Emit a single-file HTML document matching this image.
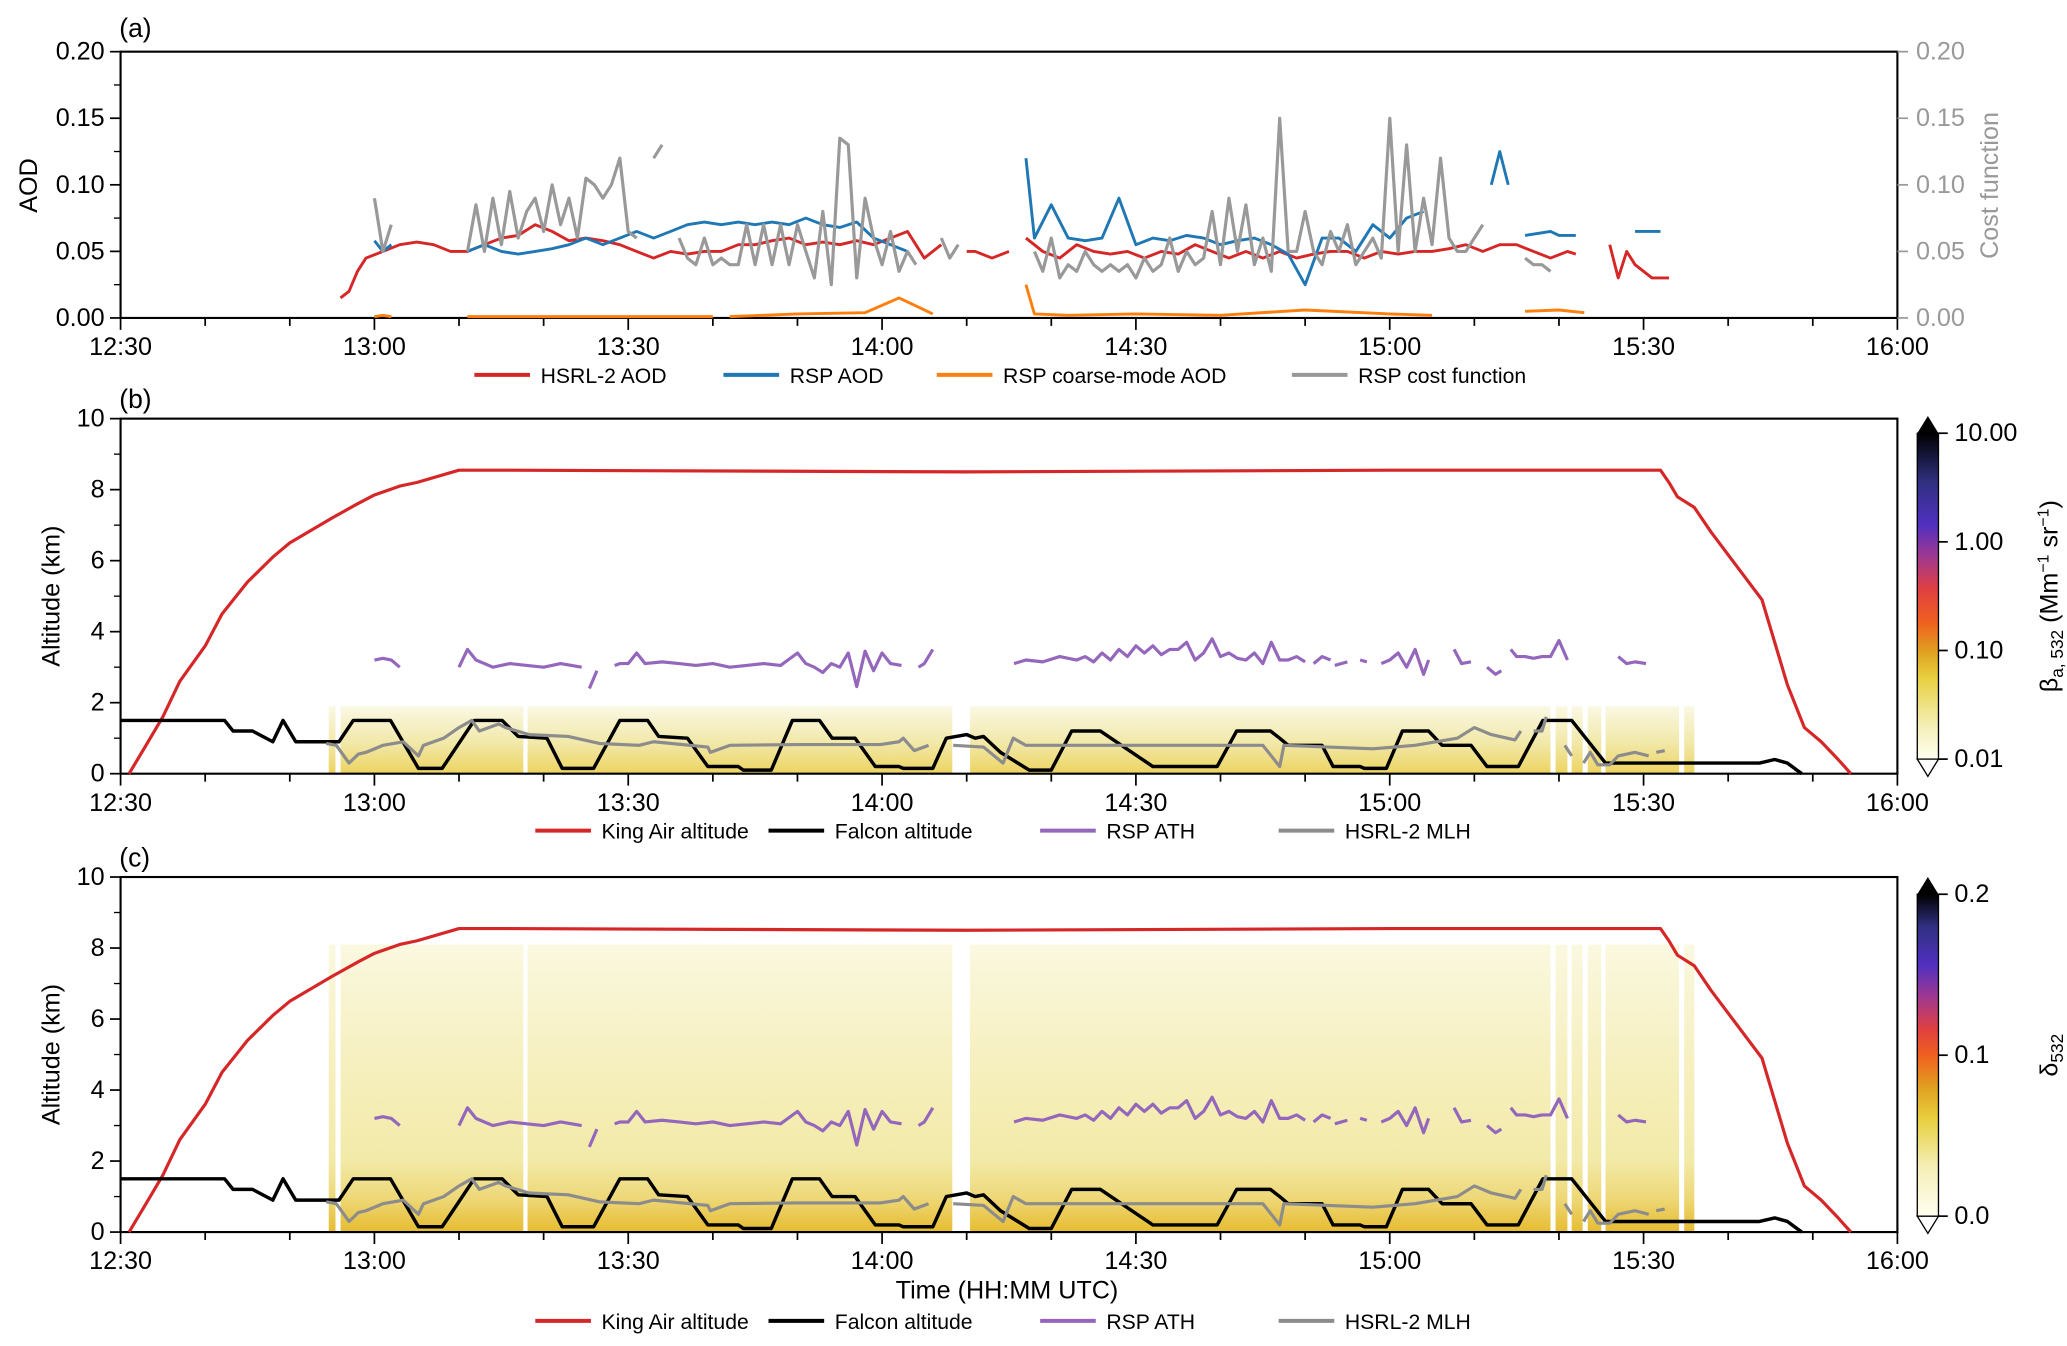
<!DOCTYPE html>
<html><head><meta charset="utf-8"><style>
html,body{margin:0;padding:0;background:#fff}
svg{display:block;font-family:"Liberation Sans",Arial,sans-serif}
</style></head><body>
<svg id="fig" width="2067" height="1346" viewBox="0 0 1560 1016" preserveAspectRatio="none" xmlns="http://www.w3.org/2000/svg">
<defs>
<linearGradient id="cb1" x1="0" y1="1" x2="0" y2="0">
<stop offset="0" stop-color="#fffff0"/><stop offset="0.1" stop-color="#f4efb8"/><stop offset="0.25" stop-color="#e8d040"/><stop offset="0.33" stop-color="#e0a020"/><stop offset="0.42" stop-color="#f06020"/><stop offset="0.52" stop-color="#e04040"/><stop offset="0.62" stop-color="#a03890"/><stop offset="0.72" stop-color="#5030c0"/><stop offset="0.85" stop-color="#303080"/><stop offset="1" stop-color="#000"/>
</linearGradient>
<linearGradient id="cb2" x1="0" y1="1" x2="0" y2="0">
<stop offset="0" stop-color="#fffff0"/><stop offset="0.15" stop-color="#f4efb8"/><stop offset="0.3" stop-color="#e8d040"/><stop offset="0.4" stop-color="#e0a020"/><stop offset="0.5" stop-color="#f06020"/><stop offset="0.58" stop-color="#e04040"/><stop offset="0.68" stop-color="#a03890"/><stop offset="0.78" stop-color="#5030c0"/><stop offset="0.9" stop-color="#303080"/><stop offset="1" stop-color="#000"/>
</linearGradient>
<linearGradient id="hb" x1="0" y1="1" x2="0" y2="0">
<stop offset="0" stop-color="#ecd460"/><stop offset="0.45" stop-color="#f2e8a8"/><stop offset="1" stop-color="#faf8e4"/>
</linearGradient>
<linearGradient id="hc" x1="0" y1="1" x2="0" y2="0">
<stop offset="0" stop-color="#e6bc30"/><stop offset="0.12" stop-color="#eed878"/><stop offset="0.25" stop-color="#f2eaa8"/><stop offset="0.6" stop-color="#f6f0c0"/><stop offset="1" stop-color="#faf8e0"/>
</linearGradient>
</defs>
<g id="root"></g>
</svg>
<script>
// ---- data (minutes after 12:30) ----
const hsrlT=[26,27,28,29,31,33,35,37,39,41,43,45,47,49,51,53,55,57,59,61,63,65,67,69,71,73,75,77,79,81,83,85,87,89,91,93,95,97,null,100,101,103,105,null,107,109,111,113,115,117,119,121,123,125,127,129,131,133,135,137,139,141,143,145,147,149,151,153,155,157,159,161,163,165,167,169,171,172,null,176,177,178,179,180,181,183];
const hsrlV=[0.015,0.02,0.035,0.045,0.05,0.055,0.057,0.055,0.05,0.05,0.055,0.06,0.062,0.07,0.065,0.058,0.06,0.058,0.055,0.05,0.045,0.05,0.048,0.05,0.05,0.055,0.055,0.058,0.06,0.055,0.057,0.055,0.058,0.055,0.06,0.065,0.045,0.055,null,0.05,0.05,0.045,0.05,null,0.06,0.05,0.045,0.055,0.05,0.048,0.05,0.045,0.05,0.048,0.055,0.05,0.045,0.05,0.045,0.05,0.045,0.048,0.05,0.05,0.045,0.05,0.048,0.05,0.05,0.052,0.055,0.05,0.055,0.055,0.05,0.045,0.05,0.048,null,0.055,0.03,0.05,0.04,0.035,0.03,0.03];
const rspT=[30,31,32,null,41,43,45,47,49,51,53,55,57,59,61,63,65,67,69,71,73,75,77,79,81,83,85,87,89,91,93,null,107,108,110,112,114,116,118,120,122,124,126,128,130,132,134,136,138,140,142,144,146,148,150,152,154,null,162,163,164,null,166,169,170,172,null,179,180.5,182];
const rspV=[0.058,0.05,0.055,null,0.05,0.055,0.05,0.048,0.05,0.052,0.055,0.06,0.055,0.06,0.065,0.06,0.065,0.07,0.072,0.07,0.072,0.07,0.072,0.07,0.075,0.07,0.068,0.072,0.06,0.055,0.05,null,0.12,0.06,0.085,0.06,0.058,0.06,0.09,0.055,0.06,0.058,0.062,0.06,0.055,0.058,0.06,0.055,0.048,0.025,0.06,0.06,0.05,0.07,0.06,0.075,0.08,null,0.10,0.125,0.10,null,0.062,0.065,0.062,0.062,null,0.065,0.065,0.065];
const costT=[30,31,32,null,41,42,43,44,45,46,47,48,49,50,51,52,53,54,55,56,57,58,59,60,61,null,63,64,null,66,67,68,69,70,71,72,73,74,75,76,77,78,79,80,81,82,83,84,85,86,87,88,89,90,91,92,93,94,null,97,98,99,null,108,109,110,111,112,113,114,115,116,117,118,119,120,121,122,123,124,125,126,127,128,129,130,131,132,133,134,135,136,137,138,139,140,141,142,143,144,145,146,147,148,149,150,151,152,153,154,155,156,157,158,159,160,161,null,163,164,null,165,166,167,168,169];
const costV=[0.09,0.05,0.07,null,0.05,0.085,0.05,0.09,0.055,0.095,0.06,0.08,0.09,0.065,0.10,0.07,0.09,0.06,0.105,0.10,0.09,0.10,0.12,0.065,0.06,null,0.12,0.13,null,0.06,0.045,0.04,0.06,0.04,0.045,0.04,0.04,0.07,0.04,0.07,0.04,0.07,0.04,0.07,0.05,0.03,0.08,0.025,0.135,0.13,0.03,0.09,0.06,0.04,0.065,0.035,0.05,0.04,null,0.06,0.045,0.055,null,0.05,0.035,0.06,0.03,0.04,0.035,0.05,0.04,0.035,0.04,0.035,0.04,0.03,0.045,0.035,0.04,0.06,0.035,0.05,0.04,0.045,0.08,0.04,0.09,0.05,0.085,0.04,0.06,0.035,0.15,0.05,0.05,0.08,0.05,0.04,0.065,0.05,0.07,0.04,0.05,0.06,0.045,0.15,0.05,0.13,0.05,0.09,0.055,0.12,0.06,0.05,0.05,0.06,0.07,0.05,null,0.08,0.11,null,0.045,0.04,0.04,0.035,0.037];
const coarseT=[30,31,32,null,41,50,60,70,null,72,80,88,92,96,null,107,108,112,120,130,140,150,155,null,163,null,166,170,173];
const coarseV=[0.001,0.002,0.001,null,0.001,0.001,0.001,0.001,null,0.001,0.003,0.004,0.015,0.003,null,0.025,0.003,0.002,0.003,0.002,0.006,0.003,0.002,null,0.003,null,0.005,0.006,0.004];
const kingT=[1,3,5,7,10,12,15,18,20,25,28,30,33,35,40,45,100,150,182,183,184,186,188,194,197,199,201,203,204.5];
const kingV=[0,0.8,1.6,2.6,3.6,4.5,5.4,6.1,6.5,7.2,7.6,7.85,8.1,8.2,8.55,8.55,8.5,8.55,8.55,8.2,7.8,7.5,6.8,4.9,2.5,1.3,0.9,0.4,0];
const falconT=[0,12.3,13.3,15.6,18,19.2,20.7,25.8,27.5,31.9,35.2,38,41.8,45.1,47,50.4,52.2,55.9,59,62.3,63.6,67,69.4,73,73.6,76.9,79.4,82.6,84.1,86.8,89.2,92,92.5,96,97.6,100,101,102,104,107.4,110,112.4,115.8,122,129.6,131.9,135.9,137,138,142,143.3,146.5,147,149.6,151.5,154.6,156.2,159.6,161.5,165.2,168.1,171.5,175.5,193.7,195.5,197,198.7];
const falconV=[1.5,1.5,1.2,1.2,0.9,1.5,0.9,0.9,1.5,1.5,0.15,0.15,1.5,1.5,1.05,1.0,0.15,0.15,1.5,1.5,1.05,1.0,0.2,0.2,0.1,0.1,1.5,1.5,1.0,1.0,0.2,0.2,0.15,0.15,1.0,1.1,1.0,1.05,0.6,0.1,0.1,1.2,1.2,0.2,0.2,1.2,1.2,1.0,0.8,0.8,0.2,0.2,0.15,0.15,1.2,1.2,0.8,0.8,0.2,0.2,1.5,1.5,0.3,0.3,0.4,0.3,0];
const athT=[30,31,32,33,null,40,41,42,43,44,46,48,50,52,54.5,null,55.4,56.3,null,58.4,59,60,61,62,64,66,68,70,72,74,76,78,80,81,82,83,84,85,86,87,88,89,90,91,92.3,null,94.3,95,96,null,105.6,107,109,111,113,114,115,116,117,118,119,120,121,122,123,124,125,126,127,128,129,130,131,132,133,134,135,136,137,138,139,140,null,141,142,143,null,143.5,145,null,146.5,147.3,null,149,150,151,152,153,154,154.6,null,157.6,158.5,159.6,null,161.5,162.5,163.2,null,164.3,165,166,167,168,169,170,171,null,177,178,179,180.3];
const athV=[3.2,3.25,3.2,3.0,null,3.0,3.5,3.2,3.1,3.0,3.1,3.05,3.0,3.1,3.0,null,2.4,2.9,null,3.05,3.1,3.1,3.4,3.1,3.15,3.1,3.05,3.1,3.0,3.05,3.1,3.05,3.4,3.1,3.0,2.85,3.1,3.0,3.4,2.45,3.45,2.9,3.4,3.1,3.05,null,3.0,3.1,3.5,null,3.1,3.2,3.15,3.3,3.2,3.3,3.15,3.4,3.2,3.5,3.3,3.6,3.4,3.6,3.35,3.5,3.5,3.7,3.2,3.4,3.8,3.3,3.4,3.25,3.2,3.4,3.1,3.7,3.2,3.2,3.3,3.15,null,3.1,3.3,3.2,null,3.05,3.15,null,3.2,3.15,null,3.1,3.2,3.4,3.0,3.5,2.8,3.2,null,3.5,3.1,3.15,null,3.0,2.8,2.9,null,3.5,3.3,3.3,3.25,3.3,3.3,3.75,3.2,null,3.3,3.1,3.15,3.1];
const mlhT=[24.3,25.5,27,28.1,29,31,33.4,35.2,35.8,38.2,40,41.5,42.4,44.7,45.5,48.3,52.9,56.6,61.3,63,69.4,69.7,72,80,89.8,92,92.5,93.8,95.5,null,98.4,102,104.3,105.5,107,115,125,135,136,137,137.5,148,153,158,160,162,164.8,165.5,null,167,168,168.5,null,170.7,171.5,null,172.9,173.7,174.6,176,177,179,180.6,null,181.5,182.5];
const mlhV=[0.85,0.8,0.3,0.55,0.6,0.8,0.9,0.5,0.8,1.0,1.3,1.5,1.2,1.4,1.3,1.1,1.05,0.85,0.8,0.9,0.75,0.6,0.8,0.82,0.82,0.9,1.0,0.65,0.8,null,0.8,0.75,0.3,1.0,0.8,0.8,0.8,0.8,0.5,0.2,0.8,0.7,0.8,1.0,1.3,1.1,0.95,1.2,null,1.2,1.2,1.6,null,0.8,0.5,null,0.3,0.6,0.25,0.25,0.5,0.6,0.5,null,0.6,0.65];
const xTickLabels=["12:30","13:00","13:30","14:00","14:30","15:00","15:30","16:00"];
const aodTicks=[0,0.05,0.1,0.15,0.2];
const altTicks=[0,2,4,6,8,10];
const cb1Labels=["0.01","0.10","1.00","10.00"];
const cb2Labels=["0.0","0.1","0.2"];

// ---- scales ----
const X0=91,X1=1432;
const xs=m=>X0+m*(X1-X0)/210;
const ya=v=>240-v*(201/0.2);
const yb=h=>584-h*26.8;
const yc=h=>930-h*26.8;
const NS="http://www.w3.org/2000/svg";
const root=document.getElementById('root');
function el(tag,attrs,parent,txt){const e=document.createElementNS(NS,tag);for(const k in attrs)e.setAttribute(k,attrs[k]);if(txt!==undefined)e.textContent=txt;(parent||root).appendChild(e);return e;}
function pathD(T,V,y){let d='',pen=false;for(let i=0;i<T.length;i++){if(T[i]===null||V[i]===null){pen=false;continue;}d+=(pen?'L':'M')+xs(T[i]).toFixed(1)+','+y(V[i]).toFixed(1);pen=true;}return d;}
function series(T,V,y,color,w,name){const p=el('path',{d:pathD(T,V,y),fill:'none',stroke:color,'stroke-width':w,'stroke-linejoin':'round'});


return p;}

// ---- heatmaps ----
function heat(ybot,ytop,grad,name,gaps){const g=el('g',{});


el('rect',{x:xs(24.6),y:ytop,width:xs(186)-xs(24.6),height:ybot-ytop,fill:'url(#'+grad+')'},g);
gaps.forEach(gp=>el('rect',{x:xs(gp[0]),y:ytop-2,width:xs(gp[1])-xs(gp[0]),height:ybot-ytop+2,fill:'#fff'},g));}
heat(584,yb(1.9),'hb','backscatter-heatmap',[[25.4,26],[47.6,48.1],[98.3,100.4],[169,169.6],[171,171.5],[172.8,173.4],[175,175.5],[184.2,184.8]]);
heat(930,yc(8.1),'hc','depolarization-heatmap',[[25.4,26],[47.6,48.1],[98.3,100.4],[169,169.6],[171,171.5],[172.8,173.4],[175,175.5],[184.2,184.8]]);

// ---- axes frames ----
function frame(top,bot,name){const r=el('rect',{x:X0,y:top,width:X1-X0,height:bot-top,fill:'none',stroke:'#000','stroke-width':1.6});

}
function xaxis(bot,labels){for(let m=0;m<=210;m+=10){const maj=m%30===0;el('line',{x1:xs(m),x2:xs(m),y1:bot,y2:bot+(maj?9:6),stroke:'#000','stroke-width':1.3});}
if(labels)xTickLabels.forEach((t,i)=>{const tx=el('text',{x:xs(i*30),y:bot+28,'font-size':19,'text-anchor':'middle'},null,t);

});}
function legend(y,items){items.forEach(it=>{const g=el('g',{});


el('line',{x1:it[0],x2:it[0]+42,y1:y,y2:y,stroke:it[1],'stroke-width':3},g);el('text',{x:it[0]+50,y:y+6,'font-size':16},g,it[2]);});}

// panel a
frame(39,240,'aod-panel-frame');
xaxis(240,true);
aodTicks.forEach(v=>{el('line',{x1:X0-8,x2:X0,y1:ya(v),y2:ya(v),stroke:'#000','stroke-width':1.3});
const t=el('text',{x:X0-12,y:ya(v)+6,'font-size':19,'text-anchor':'end'},null,v.toFixed(2));
el('line',{x1:X1,x2:X1+8,y1:ya(v),y2:ya(v),stroke:'#999','stroke-width':1.3});
const t2=el('text',{x:X1+14,y:ya(v)+6,'font-size':19,fill:'#999'},null,v.toFixed(2));});
for(let v=0.025;v<0.2;v+=0.05){el('line',{x1:X0-5,x2:X0,y1:ya(v),y2:ya(v),stroke:'#000','stroke-width':1});}
series(coarseT,coarseV,ya,'#ff7f0e',2.2,'rsp-coarse-aod-line');
series(hsrlT,hsrlV,ya,'#d62728',2.2,'hsrl-aod-line');
series(rspT,rspV,ya,'#1f77b4',2.2,'rsp-aod-line');
series(costT,costV,ya,'#999',2.4,'cost-function-line');
let t;
t=el('text',{x:90,y:28,'font-size':20},null,'(a)');
t=el('text',{x:0,y:0,'font-size':19,'text-anchor':'middle',transform:'translate(28,140) rotate(-90)'},null,'AOD');
t=el('text',{x:0,y:0,'font-size':19,'text-anchor':'middle',fill:'#999',transform:'translate(1508,140) rotate(-90)'},null,'Cost function');
legend(283,[[358,'#d62728','HSRL-2 AOD'],[546,'#1f77b4','RSP AOD'],[707,'#ff7f0e','RSP coarse-mode AOD'],[975,'#999','RSP cost function']]);

// panels b and c
function altPanel(top,bot,y,lab,labY,legY,hasLbl){frame(top,bot,'altitude-panel-frame');xaxis(bot,hasLbl);
altTicks.forEach(v=>{el('line',{x1:X0-8,x2:X0,y1:y(v),y2:y(v),stroke:'#000','stroke-width':1.3});
const t=el('text',{x:X0-12,y:y(v)+6,'font-size':19,'text-anchor':'end'},null,String(v));});
for(let v=1;v<10;v+=2)el('line',{x1:X0-5,x2:X0,y1:y(v),y2:y(v),stroke:'#000','stroke-width':1});
series(kingT,kingV,y,'#d62728',2.4,'king-air-altitude-line');
series(falconT,falconV,y,'#000',2.6,'falcon-altitude-line');
series(athT,athV,y,'#9467bd',2.4,'rsp-ath-line');
series(mlhT,mlhV,y,'#8c8c8c',2.4,'hsrl-mlh-line');
const a=el('text',{x:90,y:labY,'font-size':20},null,lab);
const b=el('text',{x:0,y:0,'font-size':19,'text-anchor':'middle',transform:'translate(45,'+((top+bot)/2)+') rotate(-90)'},null,'Altitude (km)');
legend(legY,[[404,'#d62728','King Air altitude'],[580,'#000','Falcon altitude'],[785,'#9467bd','RSP ATH'],[965,'#8c8c8c','HSRL-2 MLH']]);}
altPanel(316,584,yb,'(b)',308,627,true);
altPanel(662,930,yc,'(c)',654,997,true);
t=el('text',{x:760,y:980,'font-size':19,'text-anchor':'middle'},null,'Time (HH:MM UTC)');

// colorbars
function cbar(top,bot,grad,labels,name,title){const g=el('g',{});


const x=1447,w=16;
el('rect',{x:x,y:top,width:w,height:bot-top,fill:'url(#'+grad+')',stroke:'#000','stroke-width':1},g);
el('polygon',{points:`${x},${top} ${x+w},${top} ${x+w/2},${top-13}`,fill:'#000'},g);
el('polygon',{points:`${x},${bot} ${x+w},${bot} ${x+w/2},${bot+13}`,fill:'#fff',stroke:'#000','stroke-width':1},g);
labels.forEach((l,i)=>{const yy=bot-i*(bot-top)/(labels.length-1);el('line',{x1:x+w,x2:x+w+7,y1:yy,y2:yy,stroke:'#000','stroke-width':1.3},g);el('text',{x:x+w+12,y:yy+6,'font-size':19},g,l);});
const tt=el('text',{x:0,y:0,'font-size':19,'text-anchor':'middle',transform:`translate(1553,${(top+bot)/2}) rotate(-90)`},g);tt.innerHTML=title;}
cbar(327,573,'cb1',cb1Labels,'backscatter-colorbar','β<tspan font-size="13" dy="4">a, 532</tspan><tspan dy="-4"> (Mm</tspan><tspan font-size="12" dy="-7">−1</tspan><tspan dy="7"> sr</tspan><tspan font-size="12" dy="-7">−1</tspan><tspan dy="7">)</tspan>');
cbar(675,918,'cb2',cb2Labels,'depolarization-colorbar','δ<tspan font-size="13" dy="4">532</tspan>');
</script>
</body></html>
